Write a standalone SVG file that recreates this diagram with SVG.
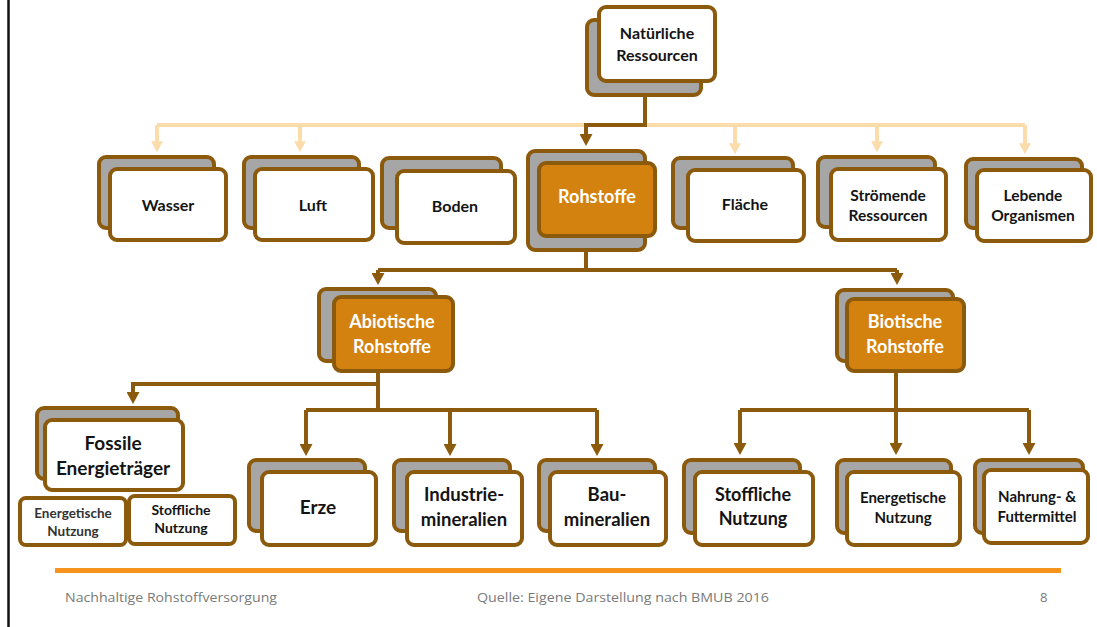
<svg xmlns="http://www.w3.org/2000/svg" width="1097" height="627" viewBox="0 0 1097 627">
  <style>
    .back { fill: #a6a6a6; stroke: #8c5a0c; stroke-width: 4; }
    .front { fill: #ffffff; stroke: #8c5a0c; stroke-width: 4; }
    .hot { fill: #d4820f; }
    .lbl { font-family: Lato, "Open Sans", "Liberation Sans", sans-serif; font-weight: 700; fill: #141414; text-anchor: middle; }
    .inv { fill: #ffffff; }
    .wire { fill: none; stroke: #8c5a0c; stroke-width: 4; }
    .pale { fill: none; stroke: #fcdcab; stroke-width: 4; }
    .foot { font-family: "Open Sans", "Liberation Sans", sans-serif; font-size: 13px; fill: #7a7a7a; }
  </style>
  <defs>
    <marker id="arrowBrown" viewBox="0 0 12 13" refX="2" refY="6.5" markerWidth="12" markerHeight="13" markerUnits="userSpaceOnUse" orient="auto">
      <path d="M0,0 L12,6.5 L0,13 z" fill="#8c5a0c"/>
    </marker>
    <marker id="arrowPale" viewBox="0 0 12 13" refX="2" refY="6.5" markerWidth="11" markerHeight="12" markerUnits="userSpaceOnUse" orient="auto">
      <path d="M0,0 L12,6.5 L0,13 z" fill="#fcdcab"/>
    </marker>
  </defs>

  <rect x="0" y="0" width="1097" height="627" fill="#ffffff"/>
  <!-- left page edge -->
  <line x1="8.5" y1="0" x2="8.5" y2="627" stroke="#111111" stroke-width="2.5"/>

  <!-- connectors -->
  <g id="connectors">
    <path class="pale" d="M157,125 H1025"/>
    <path class="pale" d="M157,125 V143" marker-end="url(#arrowPale)"/>
    <path class="pale" d="M300,125 V143" marker-end="url(#arrowPale)"/>
    <path class="pale" d="M735,125 V145" marker-end="url(#arrowPale)"/>
    <path class="pale" d="M877,125 V143" marker-end="url(#arrowPale)"/>
    <path class="pale" d="M1025,125 V145" marker-end="url(#arrowPale)"/>

    <path class="wire" d="M645,95 V125 H586 V136" marker-end="url(#arrowBrown)"/>

    <path class="wire" d="M586,250 V270"/>
    <path class="wire" d="M378,270 H897"/>
    <path class="wire" d="M378,270 V275" marker-end="url(#arrowBrown)"/>
    <path class="wire" d="M897,270 V275" marker-end="url(#arrowBrown)"/>

    <path class="wire" d="M378,371 V410"/>
    <path class="wire" d="M378,384 H133 V394" marker-end="url(#arrowBrown)"/>
    <path class="wire" d="M306,410 H597"/>
    <path class="wire" d="M306,410 V446" marker-end="url(#arrowBrown)"/>
    <path class="wire" d="M450,410 V446" marker-end="url(#arrowBrown)"/>
    <path class="wire" d="M597,410 V446" marker-end="url(#arrowBrown)"/>

    <path class="wire" d="M896,371 V410"/>
    <path class="wire" d="M740,410 H1029"/>
    <path class="wire" d="M740,410 V445" marker-end="url(#arrowBrown)"/>
    <path class="wire" d="M896,410 V445" marker-end="url(#arrowBrown)"/>
    <path class="wire" d="M1029,410 V445" marker-end="url(#arrowBrown)"/>
  </g>

  <!-- top level -->
  <g id="natuerliche-ressourcen">
    <rect class="back" x="587" y="20" width="114" height="75" rx="7"/>
    <rect class="front" x="599" y="7" width="116" height="74" rx="7"/>
    <text class="lbl" x="657" y="39" font-size="16">Natürliche</text>
    <text class="lbl" x="657" y="61" font-size="16">Ressourcen</text>
  </g>

  <!-- second level -->
  <g id="wasser">
    <rect class="back" x="99" y="157" width="115" height="71" rx="7"/>
    <rect class="front" x="110" y="169" width="116" height="71" rx="7"/>
    <text class="lbl" x="168" y="211" font-size="16">Wasser</text>
  </g>
  <g id="luft">
    <rect class="back" x="244" y="157" width="115" height="71" rx="7"/>
    <rect class="front" x="255" y="169" width="118" height="71" rx="7"/>
    <text class="lbl" x="313" y="211" font-size="16">Luft</text>
  </g>
  <g id="boden">
    <rect class="back" x="382" y="158" width="119" height="70" rx="7"/>
    <rect class="front" x="397" y="171" width="118" height="72" rx="7"/>
    <text class="lbl" x="455" y="212" font-size="16">Boden</text>
  </g>
  <g id="rohstoffe">
    <rect class="back" x="528" y="151" width="117" height="99" rx="7"/>
    <rect class="front hot" x="539" y="163" width="116" height="73" rx="7"/>
    <text class="lbl inv" x="597" y="203" font-size="18">Rohstoffe</text>
  </g>
  <g id="flaeche">
    <rect class="back" x="673" y="158" width="120" height="70" rx="7"/>
    <rect class="front" x="688" y="170" width="116" height="71" rx="7"/>
    <text class="lbl" x="745" y="210" font-size="16">Fläche</text>
  </g>
  <g id="stroemende-ressourcen">
    <rect class="back" x="818" y="157" width="117" height="70" rx="7"/>
    <rect class="front" x="831" y="169" width="115" height="71" rx="7"/>
    <text class="lbl" x="888" y="201" font-size="15.5">Strömende</text>
    <text class="lbl" x="888" y="221" font-size="15.5">Ressourcen</text>
  </g>
  <g id="lebende-organismen">
    <rect class="back" x="966" y="159" width="116" height="69" rx="7"/>
    <rect class="front" x="977" y="170" width="114" height="71" rx="7"/>
    <text class="lbl" x="1033" y="201" font-size="15.5">Lebende</text>
    <text class="lbl" x="1033" y="221" font-size="15.5">Organismen</text>
  </g>

  <!-- third level -->
  <g id="abiotische-rohstoffe">
    <rect class="back" x="319" y="289" width="117" height="72" rx="7"/>
    <rect class="front hot" x="334" y="297" width="119" height="74" rx="7"/>
    <text class="lbl inv" x="392" y="328" font-size="18">Abiotische</text>
    <text class="lbl inv" x="392" y="353" font-size="18">Rohstoffe</text>
  </g>
  <g id="biotische-rohstoffe">
    <rect class="back" x="837" y="290" width="116" height="71" rx="7"/>
    <rect class="front hot" x="847" y="299" width="117" height="72" rx="7"/>
    <text class="lbl inv" x="905" y="328" font-size="18">Biotische</text>
    <text class="lbl inv" x="905" y="353" font-size="18">Rohstoffe</text>
  </g>

  <!-- fourth level, abiotic branch -->
  <g id="fossile-energietraeger">
    <rect class="back" x="37" y="408" width="141" height="71" rx="7"/>
    <rect class="front" x="45" y="420" width="138" height="70" rx="7"/>
    <text class="lbl" x="113" y="450" font-size="19">Fossile</text>
    <text class="lbl" x="113" y="475" font-size="19">Energieträger</text>
  </g>
  <g id="fossil-energetische-nutzung">
    <rect class="front" x="20" y="498" width="106" height="47" rx="6"/>
    <text class="lbl" x="73" y="518" font-size="13.5" fill="#333333" style="fill:#333333">Energetische</text>
    <text class="lbl" x="73" y="536" font-size="13.5" style="fill:#333333">Nutzung</text>
  </g>
  <g id="fossil-stoffliche-nutzung">
    <rect class="front" x="129" y="496" width="106" height="48" rx="6"/>
    <text class="lbl" x="181" y="515" font-size="14">Stoffliche</text>
    <text class="lbl" x="181" y="533" font-size="14">Nutzung</text>
  </g>
  <g id="erze">
    <rect class="back" x="249" y="460" width="116" height="71" rx="7"/>
    <rect class="front" x="262" y="472" width="114" height="73" rx="7"/>
    <text class="lbl" x="318" y="514" font-size="19">Erze</text>
  </g>
  <g id="industrieminerale">
    <rect class="back" x="394" y="460" width="116" height="71" rx="7"/>
    <rect class="front" x="407" y="472" width="115" height="73" rx="7"/>
    <text class="lbl" x="464" y="501" font-size="18.5">Industrie-</text>
    <text class="lbl" x="464" y="526" font-size="18.5">mineralien</text>
  </g>
  <g id="baumineralien">
    <rect class="back" x="539" y="460" width="116" height="71" rx="7"/>
    <rect class="front" x="550" y="472" width="116" height="73" rx="7"/>
    <text class="lbl" x="607" y="501" font-size="18.5">Bau-</text>
    <text class="lbl" x="607" y="526" font-size="18.5">mineralien</text>
  </g>

  <!-- fourth level, biotic branch -->
  <g id="stoffliche-nutzung">
    <rect class="back" x="684" y="460" width="116" height="73" rx="7"/>
    <rect class="front" x="695" y="472" width="118" height="73" rx="7"/>
    <text class="lbl" x="753" y="501" font-size="18">Stoffliche</text>
    <text class="lbl" x="753" y="525" font-size="18">Nutzung</text>
  </g>
  <g id="energetische-nutzung">
    <rect class="back" x="837" y="460" width="114" height="73" rx="7"/>
    <rect class="front" x="847" y="472" width="113" height="73" rx="7"/>
    <text class="lbl" x="903" y="503" font-size="15">Energetische</text>
    <text class="lbl" x="903" y="523" font-size="15">Nutzung</text>
  </g>
  <g id="nahrung-futtermittel">
    <rect class="back" x="975" y="460" width="108" height="73" rx="7"/>
    <rect class="front" x="984" y="470" width="104" height="73" rx="7"/>
    <text class="lbl" x="1037" y="502" font-size="15">Nahrung- &amp;</text>
    <text class="lbl" x="1037" y="522" font-size="15">Futtermittel</text>
  </g>

  <!-- footer -->
  <rect x="55" y="568" width="1006" height="5" fill="#f7941d"/>
  <text class="foot" x="65" y="602" textLength="212" lengthAdjust="spacingAndGlyphs">Nachhaltige Rohstoffversorgung</text>
  <text class="foot" x="477" y="602" textLength="292" lengthAdjust="spacingAndGlyphs">Quelle: Eigene Darstellung nach BMUB 2016</text>
  <text class="foot" x="1040" y="602">8</text>
</svg>
